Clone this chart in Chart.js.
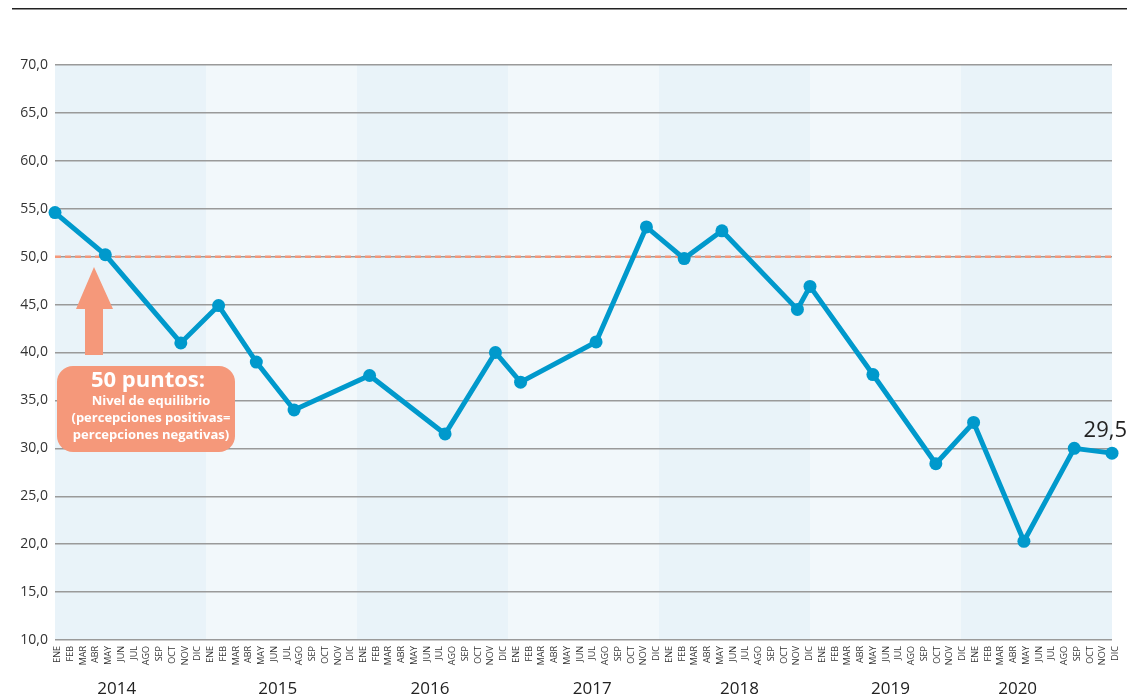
<!DOCTYPE html>
<html>
<head>
<meta charset="utf-8">
<script src="https://cdn.jsdelivr.net/npm/chart.js@4/dist/chart.umd.min.js"></script>
<style>
  html, body { margin: 0; padding: 0; background: #fff; }
  #wrap { width: 1127px; height: 696px; position: relative; }
</style>
</head>
<body>
<div id="wrap"><canvas id="myChart" width="1127" height="696"></canvas></div>
<script>
// data
var months = ['ENE', 'FEB', 'MAR', 'ABR', 'MAY', 'JUN', 'JUL', 'AGO', 'SEP', 'OCT', 'NOV', 'DIC'];
var years = ['2014', '2015', '2016', '2017', '2018', '2019', '2020'];
// position of each survey on the month axis (0 = start of 2014, 84 = end of 2020)
var periods = [0, 4, 10, 13, 16, 19, 25, 31, 35, 37, 43, 47, 50, 53, 59, 60, 65, 70, 73, 77, 81, 84];
var values = [54.6, 50.2, 41.0, 44.9, 39.0, 34.0, 37.6, 31.5, 40.0, 36.9, 41.1, 53.1, 49.8, 52.7, 44.5, 46.9, 37.7, 28.4, 32.7, 20.3, 30.0, 29.5];
var equilibrium = 50;
var lastLabel = '29,5';

var blue = '#0099cc';
var salmon = '#f5987a';
var font = '"Open Sans", "Noto Sans", sans-serif';

// where the year names sit, in months from the start of each year
var yearLabelShift = [4.9, 5.7, 5.8, 6.7, 6.4, 6.4, 4.5];

var points = periods.map(function (p, i) { return { x: p, y: values[i] }; });

var decor = {
    id: 'decor',
    beforeDraw: function (chart) {
        var c = chart.ctx, a = chart.chartArea, xs = chart.scales.x;
        c.save();
        // page rule on top
        c.fillStyle = '#222';
        c.fillRect(12, 8, 1115, 1.5);
        // alternating year bands
        for (var k = 0; k < years.length; k++) {
            var x0 = xs.getPixelForValue(k * 12), x1 = xs.getPixelForValue(k * 12 + 12);
            c.fillStyle = k % 2 === 0 ? '#e9f3f9' : '#f2f8fb';
            c.fillRect(x0, a.top, x1 - x0, a.bottom - a.top);
        }
        c.restore();
    },
    beforeDatasetsDraw: function (chart) {
        var c = chart.ctx, a = chart.chartArea, ys = chart.scales.y;
        var y = ys.getPixelForValue(equilibrium);
        c.save();
        c.strokeStyle = salmon;
        c.lineWidth = 2.5;
        c.setLineDash([6, 4]);
        c.beginPath();
        c.moveTo(a.left, y);
        c.lineTo(a.right, y);
        c.stroke();
        c.restore();
    },
    afterDraw: function (chart) {
        var c = chart.ctx, xs = chart.scales.x, ys = chart.scales.y;
        c.save();
        // year names
        c.fillStyle = '#222';
        c.font = '17px ' + font;
        c.textAlign = 'center';
        c.textBaseline = 'alphabetic';
        years.forEach(function (yr, k) {
            c.fillText(yr, xs.getPixelForValue(k * 12 + yearLabelShift[k]), 694);
        });
        // last value
        var n = periods.length - 1;
        c.font = '22px ' + font;
        c.textAlign = 'right';
        c.fillText(lastLabel, xs.getPixelForValue(periods[n]) + 15, ys.getPixelForValue(values[n]) - 16);

        // arrow
        c.fillStyle = salmon;
        c.beginPath();
        c.moveTo(94, 267);
        c.lineTo(113, 309);
        c.lineTo(103, 309);
        c.lineTo(103, 355);
        c.lineTo(85, 355);
        c.lineTo(85, 309);
        c.lineTo(76, 309);
        c.closePath();
        c.fill();
        // note box
        c.beginPath();
        c.roundRect(57, 366, 178, 86, 16);
        c.fill();
        c.fillStyle = '#fff';
        c.textAlign = 'center';
        c.textBaseline = 'middle';
        c.font = 'bold 22px ' + font;
        c.fillText('50 puntos:', 148, 381);
        c.font = 'bold 13px ' + font;
        c.fillText('Nivel de equilibrio', 151, 401);
        c.fillText('(percepciones positivas=', 151, 418);
        c.fillText('percepciones negativas)', 151, 435);
        c.restore();
    }
};

var ctx = document.getElementById('myChart');
var myChart = new Chart(ctx, {
    type: 'line',
    data: {
        datasets: [{
            label: 'Índice',
            data: points,
            borderColor: blue,
            backgroundColor: blue,
            borderWidth: 5,
            pointRadius: 6.5,
            pointHoverRadius: 6.5,
            pointBorderWidth: 0,
            tension: 0,
            clip: false
        }]
    },
    options: {
        responsive: false,
        animation: false,
        layout: { padding: { left: 0, right: 15, top: 65, bottom: 0 } },
        plugins: {
            legend: { display: false },
            tooltip: { enabled: false }
        },
        scales: {
            x: {
                type: 'linear',
                min: 0,
                max: 84,
                afterBuildTicks: function (scale) {
                    var t = [];
                    for (var i = 0; i < years.length * 12; i++) t.push({ value: 0.2 + i * 1.013 });
                    scale.ticks = t;
                },
                afterFit: function (scale) {
                    scale.height = 56;
                    scale.paddingLeft = 0;
                    scale.paddingRight = 0;
                },
                grid: { display: false, drawTicks: false },
                border: { display: false },
                ticks: {
                    autoSkip: false,
                    minRotation: 90,
                    maxRotation: 90,
                    padding: 6,
                    color: '#333',
                    font: { family: font, size: 9 },
                    callback: function (v, i) { return months[i % 12]; }
                }
            },
            y: {
                min: 10,
                max: 70,
                afterFit: function (scale) { scale.width = 55; },
                grid: { color: '#9a9a9a', lineWidth: 1.5, drawTicks: false },
                border: { display: false },
                ticks: {
                    stepSize: 5,
                    padding: 7,
                    color: '#333',
                    font: { family: font, size: 14 },
                    callback: function (v) { return v.toFixed(1).replace('.', ','); }
                }
            }
        }
    },
    plugins: [decor]
});
</script>
</body>
</html>
